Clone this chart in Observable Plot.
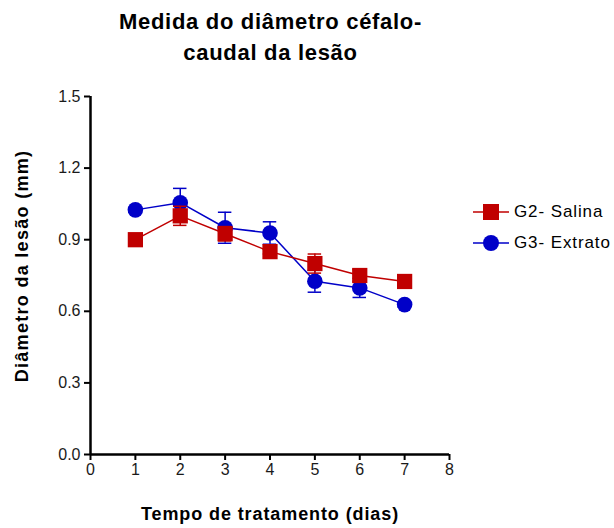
<!DOCTYPE html>
<html><head><meta charset="utf-8">
<script src="https://cdn.jsdelivr.net/npm/d3@7"></script>
<script src="https://cdn.jsdelivr.net/npm/@observablehq/plot@0.6"></script>
<style>
body{margin:0;background:#fff;font-family:"Liberation Sans",Arial,sans-serif;}
#wrap{position:relative;width:614px;height:528px;}
#title{position:absolute;left:0;width:541px;top:6px;text-align:center;font-weight:bold;font-size:22px;letter-spacing:0.7px;line-height:31px;color:#000;}
#xlab{position:absolute;left:0;width:540px;top:504px;text-align:center;font-weight:bold;font-size:18px;letter-spacing:0.9px;color:#000;}
#ylab{position:absolute;left:22px;top:266px;transform:translate(-50%,-50%) rotate(-90deg);white-space:nowrap;font-weight:bold;font-size:18px;letter-spacing:1.3px;color:#000;}
#legend{position:absolute;left:472px;top:196px;font-size:17px;letter-spacing:0.9px;color:#000;}
#legend div{display:flex;align-items:center;height:31px;}
#legend svg{margin-right:4px;}
#chart{position:absolute;left:0;top:0;}
</style></head>
<body>
<div id="wrap">
<div id="chart"></div>
<div id="title">Medida do diâmetro céfalo-<br>caudal da lesão</div>
<div id="ylab">Diâmetro da lesão (mm)</div>
<div id="xlab">Tempo de tratamento (dias)</div>
<div id="legend"></div>
</div>
<script>
const days = [1,2,3,4,5,6,7];
const salinaMean = [0.90,1.00,0.925,0.85,0.80,0.75,0.725];
const salinaErr  = [0.01,0.04,0.03,0.01,0.04,0.025,0.015];
const extratoMean = [1.025,1.055,0.95,0.928,0.726,0.698,0.628];
const extratoErr  = [0.01,0.06,0.065,0.047,0.046,0.04,0.01];
const xTicks = [0,1,2,3,4,5,6,7,8];
const yTicks = [0,0.3,0.6,0.9,1.2,1.5];
const seriesNames = ["G2- Salina","G3- Extrato"];
const colors = {"G2- Salina":"#c00000","G3- Extrato":"#0000c8"};

const salina = days.map((d,i)=>({day:d,m:salinaMean[i],e:salinaErr[i]}));
const extrato = days.map((d,i)=>({day:d,m:extratoMean[i],e:extratoErr[i]}));
const cap = 0.15;

function series(data,color,symbol,r){
  return [
    Plot.ruleX(data,{x:"day",y1:d=>d.m-d.e,y2:d=>d.m+d.e,stroke:color,strokeWidth:1.5}),
    Plot.ruleY(data,{y:d=>d.m+d.e,x1:d=>d.day-cap,x2:d=>d.day+cap,stroke:color,strokeWidth:1.5}),
    Plot.ruleY(data,{y:d=>d.m-d.e,x1:d=>d.day-cap,x2:d=>d.day+cap,stroke:color,strokeWidth:1.5}),
    Plot.line(data,{x:"day",y:"m",stroke:color,strokeWidth:1.5}),
    Plot.dot(data,{x:"day",y:"m",fill:color,symbol:symbol,r:r})
  ];
}

const plot = Plot.plot({
  width:614,height:528,
  marginLeft:90,marginRight:165,marginTop:96,marginBottom:74,
  style:{fontFamily:"Liberation Sans, Arial, sans-serif",fontSize:"16px",color:"#1a1a1a",background:"white"},
  x:{domain:[0,8]},
  y:{domain:[0,1.5]},
  marks:[
    Plot.axisY({ticks:yTicks,tickFormat:d=>d.toFixed(1),tickSize:6,tickPadding:4,strokeWidth:2,stroke:"#000",fill:"#1a1a1a",fontSize:16,label:null}),
    Plot.axisX({ticks:xTicks,tickFormat:d=>String(d),tickSize:6,tickPadding:3,strokeWidth:2,stroke:"#000",fill:"#1a1a1a",fontSize:16,label:null}),
    Plot.ruleX([0],{stroke:"#000",strokeWidth:2.5}),
    Plot.ruleY([0],{stroke:"#000",strokeWidth:2.5}),
    ...series(extrato,colors["G3- Extrato"],"circle",7.8),
    ...series(salina,colors["G2- Salina"],"square",8.6)
  ]
});
document.getElementById("chart").appendChild(plot);

const leg = document.getElementById("legend");
seriesNames.forEach((n,i)=>{
  const c = colors[n];
  const shape = i===0
    ? `<rect x="11" y="3" width="16" height="16" fill="${c}"/>`
    : `<circle cx="19" cy="11" r="8" fill="${c}"/>`;
  const row = document.createElement("div");
  row.innerHTML = `<svg width="38" height="22"><line x1="1" x2="37" y1="11" y2="11" stroke="${c}" stroke-width="1.5"/>${shape}</svg><span>${n}</span>`;
  leg.appendChild(row);
});
</script>
</body></html>
